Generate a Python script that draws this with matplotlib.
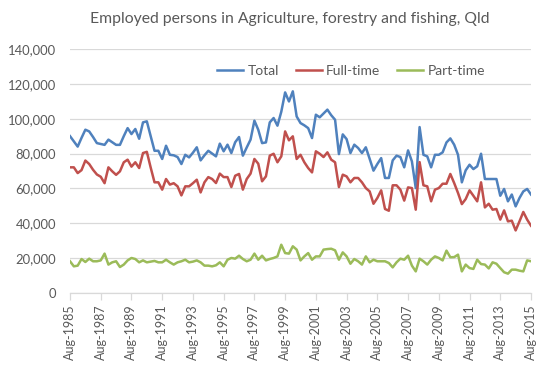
import matplotlib
matplotlib.use("Agg")
import matplotlib.pyplot as plt
import numpy as np

# Quarterly data, Aug-1985 .. Aug-2015 (121 quarters)
total = [90000, 87000, 84000, 89000, 93700, 92700, 89500, 86000, 85500, 85000,
         88000, 86500, 85000, 85000, 90000, 94600, 91200, 94100, 88500, 97900,
         98500, 90000, 81600, 81600, 76900, 84500, 79300, 79000, 78000, 74000,
         79300, 77800, 80500, 83600, 76100, 79000, 81600, 80000, 78400, 85700,
         81300, 85100, 80300, 86500, 89500, 78800, 83500, 88000, 98900, 93700,
         86000, 86400, 97900, 100400, 96000, 104000, 115100, 109900, 115700, 101300,
         97500, 96200, 94600, 88900, 102300, 100800, 103000, 105200, 102000, 99400,
         79700, 91000, 88300, 80300, 85100, 83200, 80300, 83600, 77000, 70200,
         74000, 77400, 66000, 66000, 76100, 78800, 78000, 72100, 81800, 75500,
         60200, 95200, 79300, 78400, 72100, 79300, 79300, 80700, 86400, 88700,
         85100, 79300, 63500, 70400, 73600, 71100, 72700, 79900, 65400, 65400,
         65400, 65400, 55800, 59700, 52600, 56500, 49700, 54500, 58300, 59700,
         56500]

full_time = [72100, 72100, 68800, 70500, 76000, 74000, 70700, 68000, 66700, 63000,
             72100, 69800, 67800, 69800, 75000, 76500, 72500, 75000, 71700, 80300,
             81000, 72000, 63500, 63500, 59300, 65400, 62200, 63000, 61200, 56000,
             61200, 61200, 63000, 65000, 57700, 63500, 66500, 65400, 63100, 68500,
             66500, 66500, 60800, 67300, 68300, 59300, 65400, 68500, 76900, 74200,
             64100, 66900, 78800, 79900, 75000, 78400, 92700, 87600, 89900, 76900,
             79300, 75000, 71700, 69200, 81300, 79900, 78000, 80700, 76500, 75000,
             60800, 67900, 66900, 63500, 66000, 66000, 63500, 60200, 58300, 51200,
             54500, 58900, 48200, 47200, 61800, 61800, 59300, 53000, 60600, 60200,
             47800, 75100, 61800, 61200, 52600, 59300, 60200, 62700, 62700, 68300,
             63100, 57400, 51000, 53900, 58900, 55800, 52600, 63500, 49100, 51200,
             47800, 48200, 42100, 47400, 41100, 41500, 35900, 41100, 46500, 42100,
             38600]

part_time = [18200, 15300, 15700, 19500, 17800, 19700, 18200, 18200, 18700, 22600,
             16300, 17600, 18200, 14900, 16300, 18700, 20100, 19500, 17600, 18700,
             17600, 18000, 18400, 17600, 17600, 19100, 17600, 16300, 17600, 18200,
             19100, 17600, 18000, 18700, 17600, 15700, 15700, 15300, 15900, 17600,
             15300, 19100, 20100, 19700, 21400, 19500, 18200, 19100, 22600, 19100,
             21400, 18700, 19500, 20100, 21000, 27700, 22900, 22600, 26800, 24900,
             18700, 21000, 22900, 19100, 21000, 21000, 24900, 25200, 25400, 24500,
             19100, 23300, 21000, 16800, 19500, 18200, 16300, 21000, 17600, 19100,
             18200, 18200, 18200, 17200, 14700, 17600, 19700, 19100, 21400, 15700,
             12400, 19700, 18200, 16300, 19100, 21000, 20100, 18700, 24300, 20500,
             20600, 22000, 12400, 16300, 14300, 13800, 19100, 16600, 16300, 14100,
             17600, 16800, 14300, 11900, 11100, 13400, 13400, 12800, 12400, 18700,
             18200]

series_names = ["Total", "Full-time", "Part-time"]
tick_labels = ["Aug-1985", "Aug-1987", "Aug-1989", "Aug-1991", "Aug-1993",
               "Aug-1995", "Aug-1997", "Aug-1999", "Aug-2001", "Aug-2003",
               "Aug-2005", "Aug-2007", "Aug-2009", "Aug-2011", "Aug-2013",
               "Aug-2015"]
title = "Employed persons in Agriculture, forestry and fishing, Qld"

colors = ["#4F81BD", "#C0504D", "#9BBB59"]
text_color = "#595959"
grid_color = "#D9D9D9"

plt.rcParams['font.family'] = ['Lato', 'DejaVu Sans']

W, H = 548, 386
fig = plt.figure(figsize=(W / 100, H / 100), dpi=100)
L, R, T, B = 70, 531, 49, 293
ax = fig.add_axes([L / W, 1 - B / H, (R - L) / W, (B - T) / H])

x = np.arange(len(total))
for vals, name, c in zip([total, full_time, part_time], series_names, colors):
    ax.plot(x, vals, color=c, lw=1.8, label=name, solid_joinstyle='round')

ax.set_xlim(0, len(total) - 1)
ax.set_ylim(0, 140000)
ax.set_yticks(np.arange(0, 140001, 20000))
ax.set_yticklabels([f"{v:,}" for v in range(0, 140001, 20000)])
ax.yaxis.grid(True, color=grid_color, lw=0.9)
ax.set_axisbelow(True)
ax.tick_params(axis='y', length=0, pad=10, labelsize=9.4, labelcolor=text_color)

ax.set_xticks(np.arange(0, len(total), 8))
ax.set_xticklabels(tick_labels, rotation=90)
ax.tick_params(axis='x', length=5, width=0.9, color=grid_color, pad=3,
               labelsize=9, labelcolor=text_color)

for s in ["top", "right", "left"]:
    ax.spines[s].set_visible(False)
ax.spines["bottom"].set_color(grid_color)
ax.spines["bottom"].set_linewidth(0.9)

leg = ax.legend(loc='center', bbox_to_anchor=((351 - L) / (R - L), (B - 71) / (B - T)),
                ncol=3, frameon=False, fontsize=10, handlelength=1.9,
                handletextpad=0.3, columnspacing=1.2, borderpad=0)
for t in leg.get_texts():
    t.set_color(text_color)

fig.text(290 / W, 1 - 19 / H, title, ha='center', va='center', fontsize=11.3,
         color=text_color)

fig.savefig("out.png", dpi=100)
